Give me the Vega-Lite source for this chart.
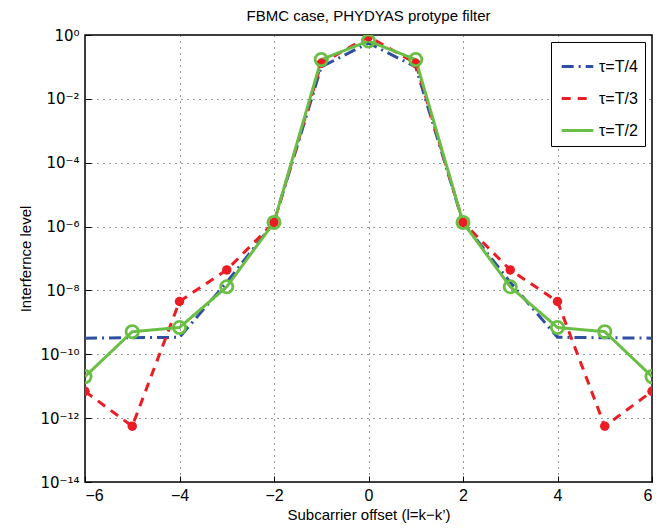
{
  "$schema": "https://vega.github.io/schema/vega-lite/v6.json",
  "width": 567,
  "height": 447,
  "autosize": {"type": "none"},
  "padding": {"left": 85, "top": 35, "right": 20, "bottom": 50},
  "background": "white",
  "config": {
    "font": "Liberation Sans",
    "view": {"stroke": "black", "strokeWidth": 1.5},
    "axis": {
      "grid": true,
      "gridColor": "#333",
      "gridDash": [1, 5],
      "gridWidth": 1,
      "domain": false,
      "tickColor": "black",
      "tickSize": -6,
      "labelColor": "black",
      "titleColor": "black",
      "labelFontSize": 16,
      "titleFontSize": 15,
      "titleFontWeight": "normal"
    },
    "title": {"fontSize": 15, "fontWeight": "normal", "color": "black"}
  },
  "title": {"text": "FBMC case, PHYDYAS protype filter", "offset": 4},
  "data": {
    "values": [
      {"l": -6, "s": "τ=T/4", "v": 3.2e-10},
      {"l": -5, "s": "τ=T/4", "v": 3.3e-10},
      {"l": -4, "s": "τ=T/4", "v": 3.4e-10},
      {"l": -3, "s": "τ=T/4", "v": 1.8e-8},
      {"l": -2, "s": "τ=T/4", "v": 1.35e-6},
      {"l": -1, "s": "τ=T/4", "v": 0.1},
      {"l": 0, "s": "τ=T/4", "v": 0.56},
      {"l": 1, "s": "τ=T/4", "v": 0.1},
      {"l": 2, "s": "τ=T/4", "v": 1.35e-6},
      {"l": 3, "s": "τ=T/4", "v": 1.8e-8},
      {"l": 4, "s": "τ=T/4", "v": 3.4e-10},
      {"l": 5, "s": "τ=T/4", "v": 3.3e-10},
      {"l": 6, "s": "τ=T/4", "v": 3.2e-10},
      {"l": -6, "s": "τ=T/3", "v": 6.9e-12},
      {"l": -5, "s": "τ=T/3", "v": 5.6e-13},
      {"l": -4, "s": "τ=T/3", "v": 4.5e-9},
      {"l": -3, "s": "τ=T/3", "v": 4.4e-8},
      {"l": -2, "s": "τ=T/3", "v": 1.35e-6},
      {"l": -1, "s": "τ=T/3", "v": 0.13},
      {"l": 0, "s": "τ=T/3", "v": 0.89},
      {"l": 1, "s": "τ=T/3", "v": 0.13},
      {"l": 2, "s": "τ=T/3", "v": 1.35e-6},
      {"l": 3, "s": "τ=T/3", "v": 4.4e-8},
      {"l": 4, "s": "τ=T/3", "v": 4.5e-9},
      {"l": 5, "s": "τ=T/3", "v": 5.6e-13},
      {"l": 6, "s": "τ=T/3", "v": 6.9e-12},
      {"l": -6, "s": "τ=T/2", "v": 2.0e-11},
      {"l": -5, "s": "τ=T/2", "v": 5.1e-10},
      {"l": -4, "s": "τ=T/2", "v": 6.9e-10},
      {"l": -3, "s": "τ=T/2", "v": 1.3e-8},
      {"l": -2, "s": "τ=T/2", "v": 1.35e-6},
      {"l": -1, "s": "τ=T/2", "v": 0.17},
      {"l": 0, "s": "τ=T/2", "v": 0.65},
      {"l": 1, "s": "τ=T/2", "v": 0.17},
      {"l": 2, "s": "τ=T/2", "v": 1.35e-6},
      {"l": 3, "s": "τ=T/2", "v": 1.3e-8},
      {"l": 4, "s": "τ=T/2", "v": 6.9e-10},
      {"l": 5, "s": "τ=T/2", "v": 5.1e-10},
      {"l": 6, "s": "τ=T/2", "v": 2.0e-11}
    ]
  },
  "encoding": {
    "x": {
      "field": "l", "type": "quantitative",
      "scale": {"domain": [-6, 6], "nice": false, "zero": false},
      "axis": {"values": [-6, -4, -2, 0, 2, 4, 6], "title": "Subcarrier offset (l=k−k’)", "titlePadding": 4, "labelPadding": 11}
    },
    "y": {
      "field": "v", "type": "quantitative",
      "scale": {"type": "log", "domain": [1e-14, 1], "nice": false},
      "axis": {
        "values": [1e-14, 1e-12, 1e-10, 1e-8, 1e-6, 1e-4, 1e-2, 1],
        "title": "Interfernce level",
        "titlePadding": 6,
        "labelPadding": 12,
        "labelFont": "DejaVu Sans",
        "labelFontSize": 15,
        "labelExpr": "datum.value > 0.1 ? '10⁰' : datum.value > 1e-3 ? '10⁻²' : datum.value > 1e-5 ? '10⁻⁴' : datum.value > 1e-7 ? '10⁻⁶' : datum.value > 1e-9 ? '10⁻⁸' : datum.value > 1e-11 ? '10⁻¹⁰' : datum.value > 1e-13 ? '10⁻¹²' : '10⁻¹⁴'"
      }
    }
  },
  "layer": [
    {
      "mark": {"type": "line", "clip": true},
      "encoding": {
        "color": {
          "field": "s", "type": "nominal",
          "scale": {"domain": ["τ=T/4", "τ=T/3", "τ=T/2"], "range": ["#2F4FA2", "#EC1C24", "#6BBE45"]},
          "legend": {
            "title": null,
            "orient": "top-right",
            "offset": 7,
            "symbolType": "stroke",
            "symbolSize": 1000,
            "symbolStrokeWidth": 3,
            "labelFontSize": 16,
            "labelColor": "black",
            "strokeColor": "black",
            "fillColor": "white",
            "padding": 7,
            "rowPadding": 6,
            "symbolOffset": 2,
            "labelOffset": 4
          }
        },
        "strokeDash": {
          "field": "s", "type": "nominal",
          "scale": {"domain": ["τ=T/4", "τ=T/3", "τ=T/2"], "range": [[12, 5, 2, 5], [9, 7], [1, 0]]},
          "legend": null
        },
        "strokeWidth": {
          "field": "s", "type": "nominal",
          "scale": {"domain": ["τ=T/4", "τ=T/3", "τ=T/2"], "range": [3, 3, 3.2]},
          "legend": null
        }
      }
    },
    {
      "transform": [{"filter": "datum.s == 'τ=T/3'"}],
      "mark": {"type": "point", "filled": true, "color": "#EC1C24", "size": 90, "opacity": 1, "clip": true}
    },
    {
      "transform": [{"filter": "datum.s == 'τ=T/2'"}],
      "mark": {"type": "point", "filled": false, "color": "#6BBE45", "size": 150, "strokeWidth": 2.8, "opacity": 1, "clip": true}
    }
  ]
}
